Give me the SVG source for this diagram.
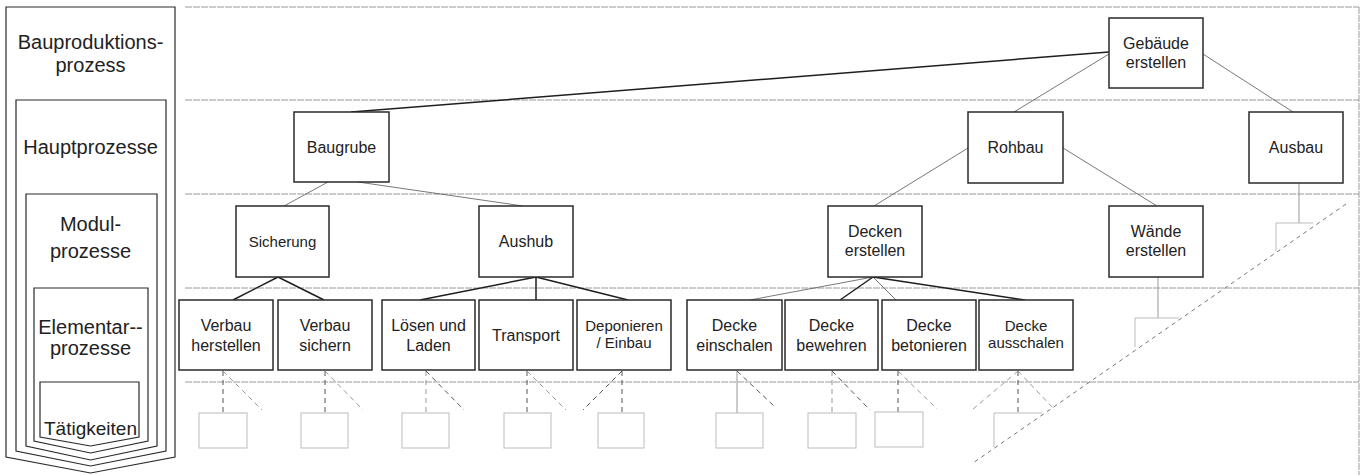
<svg xmlns="http://www.w3.org/2000/svg" width="1361" height="475" viewBox="0 0 1361 475">
<style>
text{font-family:"Liberation Sans",Arial,sans-serif;fill:#222;text-anchor:middle}
.lt{font-size:20px}
.n{font-size:16px}
.s{font-size:15px}
.box{fill:#fff;stroke:#2a2a2a;stroke-width:1.5}
.pan{fill:#fff;stroke:#2a2a2a;stroke-width:1.2}
.lane{stroke:#9a9a9a;stroke-width:1;stroke-dasharray:7 1;fill:none}
.thin{stroke:#555;stroke-width:0.8;fill:none}
.thick{stroke:#1e1e1e;stroke-width:1.5;fill:none}
.dk{stroke:#555;stroke-width:1;stroke-dasharray:5 4;fill:none}
.dl{stroke:#999;stroke-width:1;stroke-dasharray:5 4;fill:none}
.sl{stroke:#999;stroke-width:1;fill:none}
.ph{fill:none;stroke:#bcbcbc;stroke-width:1}
.big{stroke:#777;stroke-width:1;stroke-dasharray:4 4;fill:none}
</style>
<rect width="1361" height="475" fill="#fff"/>

<g id="legend">
<path class="pan" d="M6,7 H175 V457 L90.5,473 L6,457 Z"/>
<path class="pan" d="M16,100 H166 V451 L90.5,466 L16,451 Z"/>
<path class="pan" d="M26,194 H157 V446 L90.5,460 L26,446 Z"/>
<path class="pan" d="M34,288 H148 V441 L90.5,453 L34,441 Z"/>
<path class="pan" d="M40,382 H139 V437 L90.5,446 L40,437 Z"/>
<text class="lt" x="90.5" y="49">Bauproduktions-</text>
<text class="lt" x="90.5" y="72">prozess</text>
<text class="lt" x="90.5" y="154">Hauptprozesse</text>
<text class="lt" x="90.5" y="231">Modul-</text>
<text class="lt" x="90.5" y="258">prozesse</text>
<text class="lt" x="90.5" y="334">Elementar--</text>
<text class="lt" x="90.5" y="355">prozesse</text>
<text class="lt" x="90.5" y="435" style="font-size:19px">Tätigkeiten</text>
</g>

<g id="lanes">
<line class="lane" x1="185" y1="7" x2="1359" y2="7"/>
<line class="lane" x1="185" y1="100" x2="1359" y2="100"/>
<line class="lane" x1="185" y1="194" x2="1359" y2="194"/>
<line class="lane" x1="185" y1="288" x2="1359" y2="288"/>
<line class="lane" x1="185" y1="382" x2="1359" y2="382"/>
<line class="lane" x1="1359" y1="7" x2="1359" y2="475"/>
</g>

<g id="connectors">
<line class="thick" x1="1109" y1="52" x2="351" y2="112"/>
<line class="thin" x1="1109" y1="54" x2="1014" y2="112"/>
<line class="thin" x1="1203" y1="54" x2="1293" y2="112"/>
<line class="thin" x1="328" y1="182" x2="284" y2="206"/>
<line class="thin" x1="358" y1="182" x2="523" y2="206"/>
<line class="thin" x1="968" y1="148" x2="874" y2="206"/>
<line class="thin" x1="1063" y1="148" x2="1157" y2="206"/>
<line class="thick" x1="278" y1="277" x2="233" y2="300"/>
<line class="thick" x1="278" y1="277" x2="324" y2="300"/>
<line class="thick" x1="536" y1="277" x2="420" y2="300"/>
<line class="thick" x1="536" y1="277" x2="536" y2="300"/>
<line class="thick" x1="536" y1="277" x2="628" y2="300"/>
<line class="thin" x1="873" y1="277" x2="750" y2="300"/>
<line class="thick" x1="873" y1="277" x2="840" y2="300"/>
<line class="thin" x1="873" y1="277" x2="896" y2="300"/>
<line class="thick" x1="873" y1="277" x2="1025" y2="300"/>
<line class="dk" x1="223" y1="371" x2="223" y2="413"/>
<line class="dl" x1="223" y1="371" x2="262" y2="410"/>
<line class="dk" x1="325" y1="371" x2="325" y2="413"/>
<line class="dl" x1="325" y1="371" x2="363" y2="410"/>
<line class="dl" x1="426" y1="371" x2="426" y2="413"/>
<line class="dk" x1="426" y1="371" x2="464" y2="410"/>
<line class="dk" x1="527" y1="371" x2="527" y2="413"/>
<line class="dl" x1="527" y1="371" x2="566" y2="410"/>
<line class="dk" x1="622" y1="371" x2="622" y2="413"/>
<line class="dk" x1="622" y1="371" x2="583" y2="410"/>
<line class="sl" x1="737" y1="371" x2="737" y2="413"/>
<line class="dk" x1="737" y1="371" x2="775" y2="407"/>
<line class="dl" x1="832" y1="371" x2="832" y2="413"/>
<line class="dk" x1="832" y1="371" x2="870" y2="410"/>
<line class="dk" x1="898" y1="371" x2="898" y2="412"/>
<line class="dl" x1="898" y1="371" x2="937" y2="409"/>
<line class="dk" x1="1018" y1="371" x2="1018" y2="413"/>
<line class="dl" x1="1018" y1="371" x2="972" y2="410"/>
<line class="dl" x1="1018" y1="371" x2="1055" y2="410"/>
<line class="sl" x1="1158" y1="277" x2="1158" y2="318"/>
<line class="sl" x1="1299" y1="183" x2="1299" y2="223"/>
<line class="big" x1="1346" y1="204" x2="973" y2="463"/>
</g>

<g id="placeholders">
<rect class="ph" x="199" y="413" width="48" height="35"/>
<rect class="ph" x="301" y="413" width="47" height="35"/>
<rect class="ph" x="402" y="413" width="47" height="35"/>
<rect class="ph" x="504" y="413" width="47" height="35"/>
<rect class="ph" x="598" y="413" width="46" height="35"/>
<rect class="ph" x="716" y="413" width="47" height="35"/>
<rect class="ph" x="808" y="413" width="48" height="35"/>
<rect class="ph" x="875" y="412" width="48" height="35"/>
<path class="ph" d="M1042,413 H994 V447"/>
<path class="ph" d="M1179,318 H1135 V347"/>
<path class="ph" d="M1313,223 H1276 V251"/>
</g>

<g id="n-gebaeude"><rect class="box" x="1109" y="18" width="94" height="70"/><text class="n" x="1156" y="49">Gebäude</text><text class="n" x="1156" y="68">erstellen</text></g>
<g id="n-baugrube"><rect class="box" x="294" y="112" width="95" height="70"/><text class="n" x="341.5" y="153">Baugrube</text></g>
<g id="n-rohbau"><rect class="box" x="968" y="112" width="95" height="71"/><text class="n" x="1015.5" y="153">Rohbau</text></g>
<g id="n-ausbau"><rect class="box" x="1249" y="112" width="94" height="71"/><text class="n" x="1296" y="153">Ausbau</text></g>
<g id="n-sicherung"><rect class="box" x="236" y="206" width="93" height="71"/><text class="s" x="282.5" y="247">Sicherung</text></g>
<g id="n-aushub"><rect class="box" x="479" y="206" width="94" height="71"/><text class="n" x="526" y="247">Aushub</text></g>
<g id="n-decken"><rect class="box" x="828" y="206" width="94" height="71"/><text class="n" x="875" y="237">Decken</text><text class="n" x="875" y="256">erstellen</text></g>
<g id="n-waende"><rect class="box" x="1109" y="206" width="94" height="71"/><text class="n" x="1156" y="237">Wände</text><text class="n" x="1156" y="256">erstellen</text></g>
<g id="n-verbau-herstellen"><rect class="box" x="179" y="300" width="94" height="70"/><text class="n" x="226" y="331">Verbau</text><text class="n" x="226" y="351">herstellen</text></g>
<g id="n-verbau-sichern"><rect class="box" x="278" y="300" width="94" height="70"/><text class="n" x="325" y="331">Verbau</text><text class="n" x="325" y="351">sichern</text></g>
<g id="n-loesen"><rect class="box" x="382" y="300" width="93" height="70"/><text class="n" x="428.5" y="331">Lösen und</text><text class="n" x="428.5" y="351">Laden</text></g>
<g id="n-transport"><rect class="box" x="479" y="300" width="94" height="70"/><text class="n" x="526" y="341">Transport</text></g>
<g id="n-deponieren"><rect class="box" x="577" y="300" width="94" height="70"/><text class="s" x="624" y="331">Deponieren</text><text class="s" x="624" y="348">/ Einbau</text></g>
<g id="n-einschalen"><rect class="box" x="687" y="300" width="95" height="70"/><text class="n" x="734.5" y="331">Decke</text><text class="n" x="734.5" y="351">einschalen</text></g>
<g id="n-bewehren"><rect class="box" x="785" y="300" width="93" height="70"/><text class="n" x="831.5" y="331">Decke</text><text class="n" x="831.5" y="351">bewehren</text></g>
<g id="n-betonieren"><rect class="box" x="882" y="300" width="94" height="70"/><text class="n" x="929" y="331">Decke</text><text class="n" x="929" y="351">betonieren</text></g>
<g id="n-ausschalen"><rect class="box" x="979" y="300" width="94" height="70"/><text class="s" x="1026" y="331">Decke</text><text class="s" x="1026" y="348">ausschalen</text></g>
</svg>
